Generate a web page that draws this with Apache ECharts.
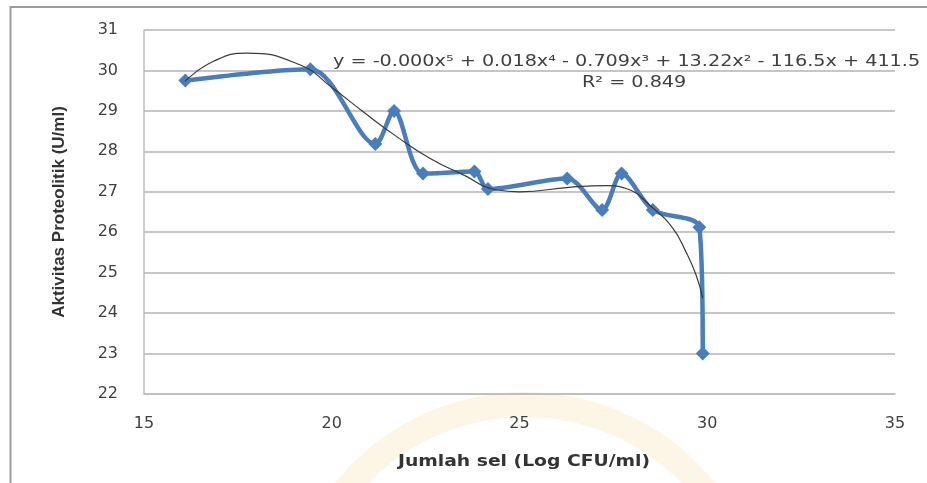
<!DOCTYPE html>
<html>
<head>
<meta charset="utf-8">
<script src="https://cdn.jsdelivr.net/npm/echarts@6/dist/echarts.min.js"></script>
<style>
  html, body { margin: 0; padding: 0; background: #fff; }
  #chart { width: 927px; height: 483px; }
</style>
</head>
<body>
<div id="chart"></div>
<script>
// data points: x = Log CFU/ml, y = U/ml
const selLog = [16.1, 19.43, 21.16, 21.66, 22.43, 23.8, 24.16, 26.27, 27.2, 27.72, 28.55, 29.79, 29.88];
const aktivitas = [29.75, 30.03, 28.18, 29.0, 27.45, 27.5, 27.07, 27.33, 26.55, 27.45, 26.55, 26.12, 23.0];

// polynomial trendline
const trendX = [16.09, 16.84, 17.73, 19.15, 20.03, 20.82, 21.72, 22.61, 23.48, 24.38, 25.0, 26.33, 27.31, 27.84, 28.55, 29.08, 29.43, 29.7, 29.88];
const trendY = [29.73, 30.22, 30.43, 30.14, 29.56, 28.99, 28.37, 27.83, 27.43, 27.05, 27.0, 27.11, 27.15, 27.08, 26.6, 26.1, 25.52, 24.95, 24.37];

const yTicks = { min: 22, max: 31, step: 1 };
const xTicks = { min: 15, max: 35, step: 5 };

const eqText = "y = -0.000x\u2075 + 0.018x\u2074 - 0.709x\u00B3 + 13.22x\u00B2 - 116.5x + 411.5";
const r2Text = "R\u00B2 = 0.849";
const xTitle = "Jumlah sel (Log CFU/ml)";
const yTitle = "Aktivitas Proteolitik (U/ml)";

const chart = echarts.init(document.getElementById("chart"));

const zip = (a, b) => a.map((v, i) => [v, b[i]]);

const option = {
  animation: false,
  backgroundColor: "#fff",
  grid: { left: 144, right: 32, top: 30, bottom: 89 },
  graphic: [
    {
      type: "ring",
      z: -10,
      silent: true,
      shape: { cx: 525, cy: 636, r: 244, r0: 219 },
      style: { fill: "#fdf6e6" },
    },
    {
      type: "rect",
      z: 100,
      silent: true,
      shape: { x: 10.5, y: 7, width: 940, height: 500 },
      style: { fill: "none", stroke: "#9c9c9c", lineWidth: 2 },
    },
    {
      type: "text",
      z: 100,
      x: 333,
      y: 54,
      scaleX: 1.2,
      style: { text: eqText, fill: "#404040", font: "16px 'DejaVu Sans'" },
    },
    {
      type: "text",
      z: 100,
      x: 582,
      y: 75,
      scaleX: 1.2,
      style: { text: r2Text, fill: "#404040", font: "16px 'DejaVu Sans'" },
    },
    {
      type: "text",
      z: 100,
      x: 524,
      y: 462,
      scaleX: 1.25,
      style: {
        text: xTitle,
        fill: "#333",
        font: "bold 15px 'DejaVu Sans'",
        align: "center",
        verticalAlign: "middle",
      },
    },
  ],
  xAxis: {
    type: "value",
    min: xTicks.min,
    max: xTicks.max,
    interval: xTicks.step,
    axisLine: { show: true, lineStyle: { color: "#bdbdbd", width: 1.5 } },
    axisTick: { show: false },
    splitLine: { show: false },
    axisLabel: { margin: 22, fontSize: 16, color: "#404040", fontFamily: "DejaVu Sans" },
  },
  yAxis: {
    type: "value",
    min: yTicks.min,
    max: yTicks.max,
    interval: yTicks.step,
    name: yTitle,
    nameLocation: "middle",
    nameRotate: 90,
    nameGap: 76,
    nameTextStyle: {
      fontFamily: "Liberation Sans Narrow, Liberation Sans",
      fontWeight: "bold",
      fontSize: 17,
      color: "#333",
    },
    axisLine: { show: true, lineStyle: { color: "#bdbdbd", width: 1.5 } },
    axisTick: { show: false },
    splitLine: { show: true, lineStyle: { color: "#c6c6c6", width: 2 } },
    axisLabel: { margin: 26, fontSize: 16, color: "#404040", fontFamily: "DejaVu Sans" },
  },
  series: [
    {
      type: "line",
      name: "Aktivitas",
      data: zip(selLog, aktivitas),
      smooth: 0.3,
      symbol: "diamond",
      symbolSize: 14,
      lineStyle: { color: "#4a7ebb", width: 4.5 },
      itemStyle: { color: "#4a7ebb" },
      z: 3,
    },
    {
      type: "line",
      name: "Trend",
      data: zip(trendX, trendY),
      smooth: true,
      showSymbol: false,
      lineStyle: { color: "#3a3a3a", width: 1.2 },
      z: 4,
    },
  ],
};

chart.setOption(option);
window.addEventListener("resize", function () {
  chart.resize();
});
</script>
</body>
</html>
